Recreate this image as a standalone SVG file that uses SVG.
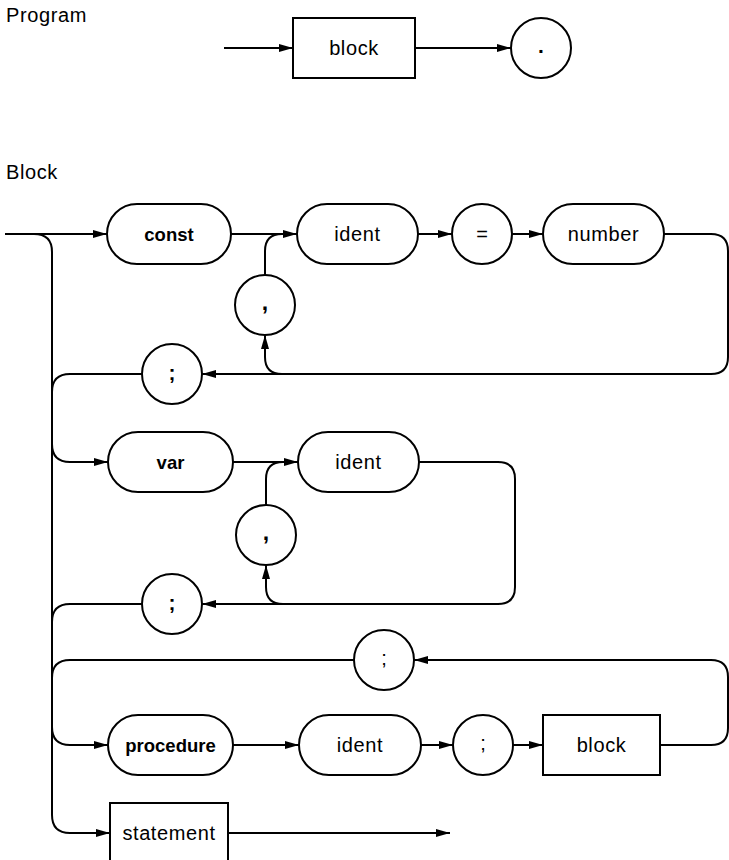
<svg xmlns="http://www.w3.org/2000/svg" width="729" height="860" viewBox="0 0 729 860">
<defs>
<marker id="arr" viewBox="0 0 14 8" refX="14" refY="4" markerWidth="14" markerHeight="8" markerUnits="userSpaceOnUse" orient="auto"><path d="M0,0 L14,4 L0,8 Z" fill="#000"/></marker>
<style>
.s{fill:#fff;stroke:#000;stroke-width:2}
.c{fill:none;stroke:#000;stroke-width:2}
.a{marker-end:url(#arr)}
text{font-family:"Liberation Sans",Arial,Helvetica,sans-serif;fill:#000}
.t{font-size:20px;letter-spacing:0.6px;text-anchor:middle}
.b{font-size:18.5px;font-weight:bold;text-anchor:middle}
.p{font-size:20px;text-anchor:middle}
.pb{font-size:21px;font-weight:bold;text-anchor:middle}
.cm{font-size:23px;font-weight:bold;text-anchor:middle}
.h{font-size:20px;letter-spacing:0.6px}
</style>
</defs>
<rect width="729" height="860" fill="#fff"/>
<text class="h" x="6" y="22">Program</text>
<text class="h" x="6" y="179">Block</text>
<g id="connectors">
<path class="c a" d="M224 48 H293"/>
<path class="c a" d="M415 48 H511"/>
<path class="c a" d="M5 234 H107"/>
<path class="c a" d="M34 234 Q52 234 52 252 V815 Q52 833 70 833 H110"/>
<path class="c a" d="M231 234 H297"/>
<path class="c a" d="M418 234 H452"/>
<path class="c a" d="M512 234 H543"/>
<path class="c a" d="M664 234 H711 Q728 234 728 251 V357 Q728 374 711 374 H202"/>
<path class="c a" d="M282 374 Q265 374 265 357 V335"/>
<path class="c" d="M265 275 V251 Q265 234 282 234"/>
<path class="c" d="M142 374 H70 Q52 374 52 392"/>
<path class="c a" d="M52 444 Q52 462 70 462 H108"/>
<path class="c a" d="M233 462 H298"/>
<path class="c a" d="M419 462 H498 Q515 462 515 479 V587 Q515 604 498 604 H202"/>
<path class="c a" d="M283 604 Q266 604 266 587 V565"/>
<path class="c" d="M266 505 V479 Q266 462 283 462"/>
<path class="c" d="M142 604 H70 Q52 604 52 622"/>
<path class="c" d="M354 660 H70 Q52 660 52 678"/>
<path class="c a" d="M52 727 Q52 745 70 745 H108"/>
<path class="c a" d="M233 745 H299"/>
<path class="c a" d="M421 745 H453"/>
<path class="c a" d="M513 745 H543"/>
<path class="c a" d="M660 745 H711 Q728 745 728 728 V677 Q728 660 711 660 H414"/>
<path class="c a" d="M228 833 H450"/>
</g>
<g id="prog-block"><rect class="s" x="293" y="18" width="122" height="60"/><text class="t" x="354" y="55">block</text></g>
<g id="prog-dot"><circle class="s" cx="541" cy="48" r="30"/><text class="pb" x="541" y="53">.</text></g>
<g id="const"><rect class="s" x="107" y="204" width="124" height="60" rx="30"/><text class="b" x="169" y="241">const</text></g>
<g id="ident1"><rect class="s" x="297" y="204" width="121" height="60" rx="30"/><text class="t" x="357.5" y="241">ident</text></g>
<g id="equals"><circle class="s" cx="482" cy="234" r="30"/><text class="p" x="482" y="241">=</text></g>
<g id="number"><rect class="s" x="543" y="204" width="121" height="60" rx="30"/><text class="t" x="603.5" y="241">number</text></g>
<g id="comma1"><circle class="s" cx="265" cy="305" r="30"/><text class="cm" x="265" y="310">,</text></g>
<g id="semi1"><circle class="s" cx="172" cy="374" r="30"/><text class="pb" x="172" y="380">;</text></g>
<g id="var"><rect class="s" x="108" y="432" width="125" height="60" rx="30"/><text class="b" x="170.5" y="469">var</text></g>
<g id="ident2"><rect class="s" x="298" y="432" width="121" height="60" rx="30"/><text class="t" x="358.5" y="469">ident</text></g>
<g id="comma2"><circle class="s" cx="266" cy="535" r="30"/><text class="cm" x="266" y="540">,</text></g>
<g id="semi2"><circle class="s" cx="172" cy="604" r="30"/><text class="pb" x="172" y="610">;</text></g>
<g id="semi3"><circle class="s" cx="384" cy="660" r="30"/><text class="p" x="384" y="665">;</text></g>
<g id="procedure"><rect class="s" x="108" y="715" width="125" height="60" rx="30"/><text class="b" x="170.5" y="752">procedure</text></g>
<g id="ident3"><rect class="s" x="299" y="715" width="122" height="60" rx="30"/><text class="t" x="360" y="752">ident</text></g>
<g id="semi4"><circle class="s" cx="483" cy="745" r="30"/><text class="p" x="483" y="750">;</text></g>
<g id="block2"><rect class="s" x="543" y="715" width="117" height="60"/><text class="t" x="601.5" y="752">block</text></g>
<g id="statement"><rect class="s" x="110" y="803" width="118" height="62"/><text class="t" x="169" y="840">statement</text></g>
</svg>
